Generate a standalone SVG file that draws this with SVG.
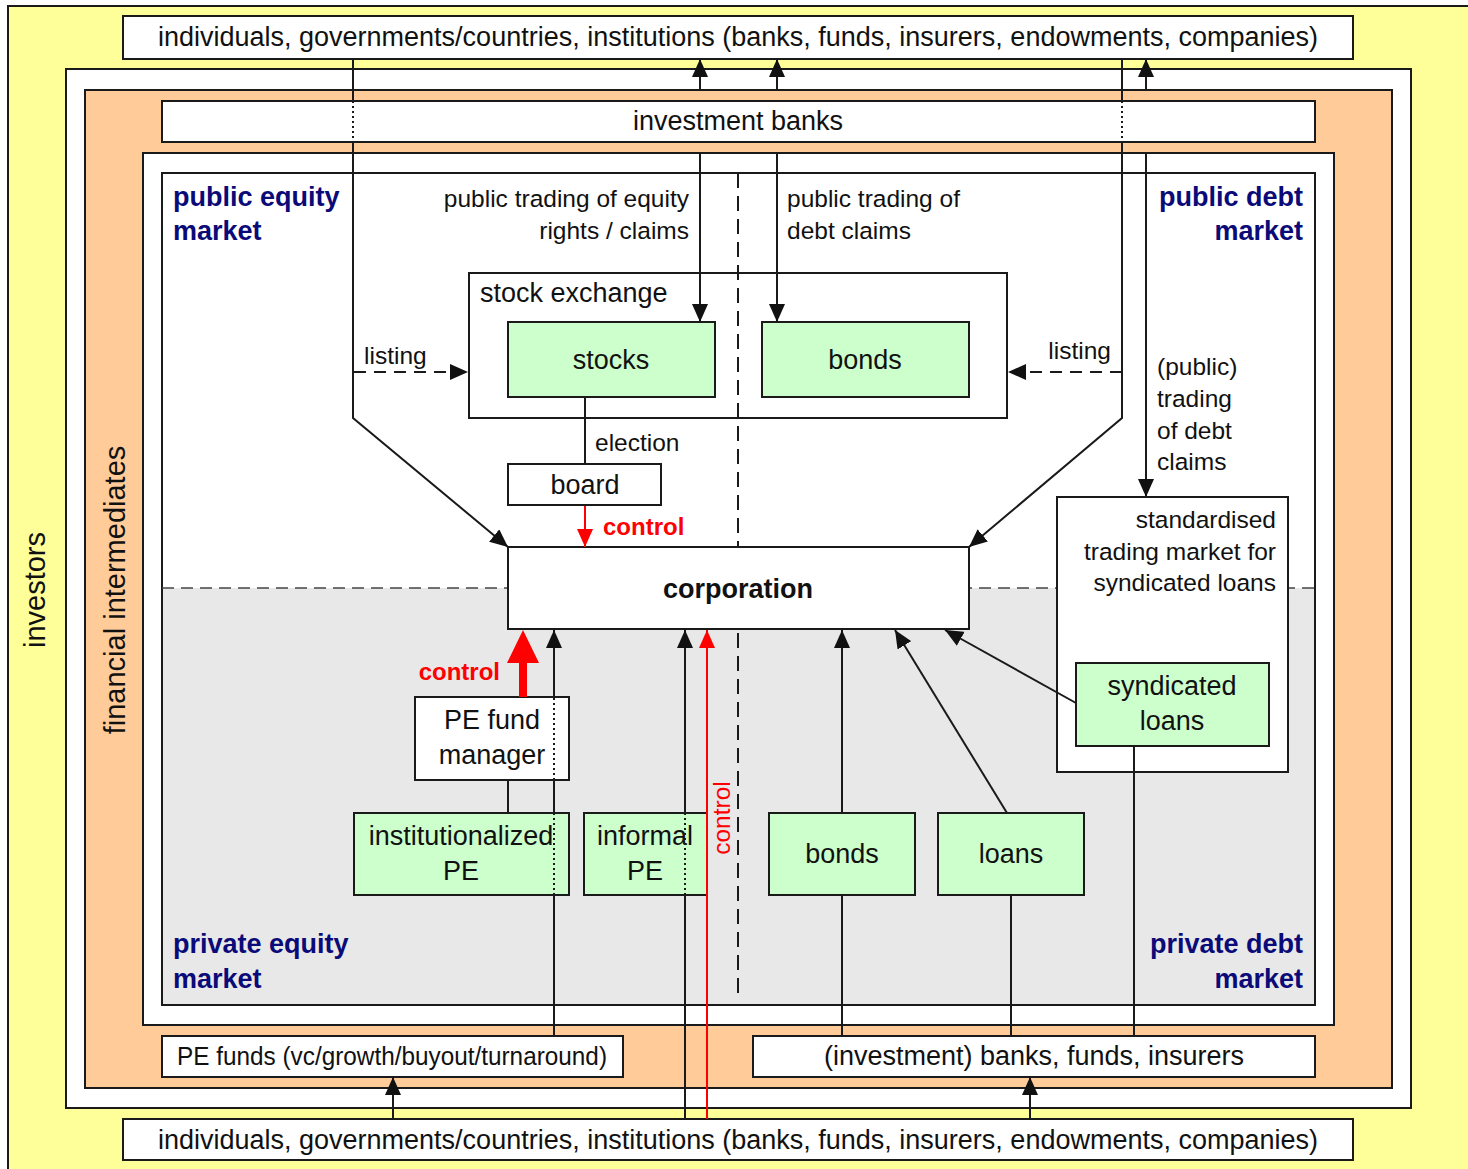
<svg xmlns="http://www.w3.org/2000/svg" width="1468" height="1169" viewBox="0 0 1468 1169">
<style>
text{font-family:"Liberation Sans",Arial,sans-serif;fill:#111}
.t27{font-size:27px}
.t24{font-size:24.5px}
.mk{font-size:27px;font-weight:bold;fill:#0a0a78}
.ctl{font-size:24px;font-weight:bold;fill:#ff0000}
.box{fill:#fff;stroke:#1a1a1a;stroke-width:2}
.grn{fill:#ccffcc;stroke:#1a1a1a;stroke-width:2}
.ln{fill:none;stroke:#1a1a1a;stroke-width:2}
.dot{fill:none;stroke:#1a1a1a;stroke-width:2;stroke-dasharray:2 3}
.dsh{fill:none;stroke:#1a1a1a;stroke-width:2;stroke-dasharray:12 8}
.sep{fill:none;stroke:#444;stroke-width:1.5;stroke-dasharray:12 7}
.vsep{fill:none;stroke:#1a1a1a;stroke-width:2;stroke-dasharray:15 8}
.red{fill:none;stroke:#ff0000;stroke-width:2}
</style>
<defs>
<marker id="ah" markerUnits="userSpaceOnUse" markerWidth="18" markerHeight="16" refX="18" refY="8" orient="auto"><path d="M0,0L18,8L0,16z" fill="#111"/></marker>
<marker id="ahr" markerUnits="userSpaceOnUse" markerWidth="18" markerHeight="16" refX="18" refY="8" orient="auto"><path d="M0,0L18,8L0,16z" fill="#ff0000"/></marker>
</defs>

<g id="investors-area">
<rect x="8" y="6" width="1470" height="1170" fill="#ffff99" stroke="#1a1a1a" stroke-width="2"/>
<text class="t27" style="font-size:29px" text-anchor="middle" transform="translate(45,590) rotate(-90)">investors</text>
</g>
<g id="intermediaries-area">
<rect x="66" y="69" width="1345" height="1039" class="box"/>
<rect x="85" y="90" width="1307" height="998" fill="#ffcc99" stroke="#1a1a1a" stroke-width="2"/>
<text class="t27" style="font-size:29px" text-anchor="middle" transform="translate(125,590) rotate(-90)">financial intermediates</text>
</g>
<g id="investment-banks">
<rect x="162" y="101" width="1153" height="41" class="box"/>
<text class="t27" x="738" y="130" text-anchor="middle">investment banks</text>
</g>
<g id="markets">
<rect x="143" y="153" width="1191" height="872" class="box"/>
<rect x="162" y="173" width="1153" height="832" fill="#fff"/>
<rect x="162" y="588" width="1153" height="417" fill="#e8e8e8"/>
<rect x="162" y="173" width="1153" height="832" fill="none" stroke="#1a1a1a" stroke-width="2"/>
<path class="sep" d="M162,588H1315"/>
<path class="vsep" d="M738,173V1000"/>
<text class="mk" x="173" y="206">public equity</text>
<text class="mk" x="173" y="240">market</text>
<text class="mk" x="1303" y="206" text-anchor="end">public debt</text>
<text class="mk" x="1303" y="240" text-anchor="end">market</text>
<text class="mk" x="173" y="953">private equity</text>
<text class="mk" x="173" y="988">market</text>
<text class="mk" x="1303" y="953" text-anchor="end">private debt</text>
<text class="mk" x="1303" y="988" text-anchor="end">market</text>
</g>

<g id="investors-top">
<rect x="123" y="16" width="1230" height="43" class="box"/>
<text class="t27" x="738" y="46" text-anchor="middle">individuals, governments/countries, institutions (banks, funds, insurers, endowments, companies)</text>
</g>
<g id="investors-bottom">
<rect x="123" y="1119" width="1230" height="41" class="box"/>
<text class="t27" x="738" y="1149" text-anchor="middle">individuals, governments/countries, institutions (banks, funds, insurers, endowments, companies)</text>
</g>
<g id="stock-exchange">
<rect x="469" y="273" width="538" height="145" fill="none" stroke="#1a1a1a" stroke-width="2"/>
<text class="t27" x="480" y="302">stock exchange</text>
</g>
<g id="stocks">
<rect x="508" y="322" width="207" height="75" class="grn"/>
<text class="t27" x="611" y="369" text-anchor="middle">stocks</text>
</g>
<g id="bonds-public">
<rect x="762" y="322" width="207" height="75" class="grn"/>
<text class="t27" x="865" y="369" text-anchor="middle">bonds</text>
</g>
<g id="board">
<rect x="508" y="464" width="153" height="41" class="box"/>
<text class="t27" x="585" y="494" text-anchor="middle">board</text>
</g>
<g id="corporation">
<rect x="508" y="547" width="461" height="82" class="box"/>
<text class="t27" x="738" y="598" text-anchor="middle" font-weight="bold">corporation</text>
</g>
<g id="standardised-market">
<rect x="1057" y="497" width="231" height="275" class="box"/>
<text class="t24" x="1276" y="528" text-anchor="end">standardised</text>
<text class="t24" x="1276" y="560" text-anchor="end">trading market for</text>
<text class="t24" x="1276" y="591" text-anchor="end">syndicated loans</text>
</g>
<g id="syndicated-loans">
<rect x="1076" y="663" width="193" height="83" class="grn"/>
<text class="t27" x="1172" y="695" text-anchor="middle">syndicated</text>
<text class="t27" x="1172" y="730" text-anchor="middle">loans</text>
</g>
<g id="pe-fund-manager">
<rect x="415" y="697" width="154" height="83" class="box"/>
<text class="t27" x="492" y="729" text-anchor="middle">PE fund</text>
<text class="t27" x="492" y="764" text-anchor="middle">manager</text>
</g>
<g id="institutionalized-pe">
<rect x="354" y="813" width="215" height="82" class="grn"/>
<text class="t27" x="461" y="845" text-anchor="middle">institutionalized</text>
<text class="t27" x="461" y="880" text-anchor="middle">PE</text>
</g>
<g id="informal-pe">
<rect x="584" y="813" width="123" height="82" class="grn"/>
<text class="t27" x="645" y="845" text-anchor="middle">informal</text>
<text class="t27" x="645" y="880" text-anchor="middle">PE</text>
</g>
<g id="bonds-private">
<rect x="769" y="813" width="146" height="82" class="grn"/>
<text class="t27" x="842" y="863" text-anchor="middle">bonds</text>
</g>
<g id="loans">
<rect x="938" y="813" width="146" height="82" class="grn"/>
<text class="t27" x="1011" y="863" text-anchor="middle">loans</text>
</g>
<g id="pe-funds">
<rect x="162" y="1036" width="461" height="41" class="box"/>
<text class="t27" x="392" y="1065" text-anchor="middle" style="font-size:25px" textLength="430" lengthAdjust="spacingAndGlyphs">PE funds (vc/growth/buyout/turnaround)</text>
</g>
<g id="banks-funds-insurers">
<rect x="753" y="1036" width="562" height="41" class="box"/>
<text class="t27" x="1034" y="1065" text-anchor="middle">(investment) banks, funds, insurers</text>
</g>

<g id="connectors">
<path class="ln" d="M700,90V59" marker-end="url(#ah)"/>
<path class="ln" d="M777,90V59" marker-end="url(#ah)"/>
<path class="ln" d="M1146,90V59" marker-end="url(#ah)"/>
<path class="ln" d="M353,59V101"/>
<path class="dot" d="M353,101V142"/>
<path class="ln" d="M353,142V418L508,547" marker-end="url(#ah)"/>
<path class="ln" d="M1122,59V101"/>
<path class="dot" d="M1122,101V142"/>
<path class="ln" d="M1122,142V418L969,547" marker-end="url(#ah)"/>
<path class="dsh" d="M354,372H468" marker-end="url(#ah)"/>
<text class="t24" x="364" y="364">listing</text>
<path class="dsh" d="M1122,372H1008" marker-end="url(#ah)"/>
<text class="t24" x="1111" y="359" text-anchor="end">listing</text>
<path class="ln" d="M700,153V322" marker-end="url(#ah)"/>
<path class="ln" d="M777,153V322" marker-end="url(#ah)"/>
<text class="t24" x="689" y="207" text-anchor="end">public trading of equity</text>
<text class="t24" x="689" y="239" text-anchor="end">rights / claims</text>
<text class="t24" x="787" y="207">public trading of</text>
<text class="t24" x="787" y="239">debt claims</text>
<path class="ln" d="M1146,153V497" marker-end="url(#ah)"/>
<text class="t24" x="1157" y="375">(public)</text>
<text class="t24" x="1157" y="407">trading</text>
<text class="t24" x="1157" y="439">of debt</text>
<text class="t24" x="1157" y="470">claims</text>
<path class="ln" d="M585,398V464"/>
<text class="t24" x="595" y="451">election</text>
<path class="red" d="M585,506V547" marker-end="url(#ahr)"/>
<text class="ctl" x="603" y="535">control</text>
<polygon points="519,697 527,697 527,663 539,663 523,630 507,663 519,663" fill="#ff0000"/>
<text class="ctl" x="500" y="680" text-anchor="end">control</text>
<path class="ln" d="M508,780V813"/>
<path class="ln" d="M554,1036V895"/>
<path class="dot" d="M554,895V813"/>
<path class="ln" d="M554,813V780"/>
<path class="dot" d="M554,780V697"/>
<path class="ln" d="M554,697V630" marker-end="url(#ah)"/>
<path class="ln" d="M685,1119V895"/>
<path class="dot" d="M685,895V813"/>
<path class="ln" d="M685,813V630" marker-end="url(#ah)"/>
<path class="red" d="M707,1119V630" marker-end="url(#ahr)"/>
<text class="t24" style="fill:#ff0000" text-anchor="middle" transform="translate(730,818) rotate(-90)">control</text>
<path class="ln" d="M842,1036V895"/>
<path class="ln" d="M842,813V630" marker-end="url(#ah)"/>
<path class="ln" d="M1011,1036V895"/>
<path class="ln" d="M1007,813L895,630" marker-end="url(#ah)"/>
<path class="ln" d="M1134,1036V746"/>
<path class="ln" d="M1076,703L945,630" marker-end="url(#ah)"/>
<path class="ln" d="M393,1119V1077" marker-end="url(#ah)"/>
<path class="ln" d="M1030,1119V1077" marker-end="url(#ah)"/>
</g>
</svg>
